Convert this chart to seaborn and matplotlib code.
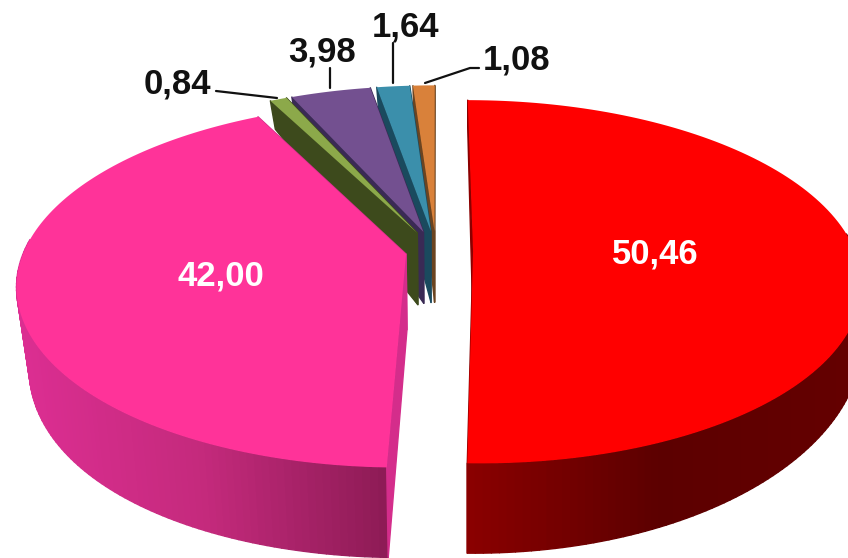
import numpy as np
import matplotlib
matplotlib.use("Agg")
import matplotlib.pyplot as plt
from matplotlib.collections import PolyCollection
from matplotlib.path import Path
from matplotlib.transforms import Affine2D, Transform
import seaborn as sns

values = [50.46, 42.00, 0.84, 3.98, 1.64, 1.08]
explode = [0.097, 0.08, 0.115, 0.115, 0.115, 0.115]
top_colors = ["#FF0000", "#FF3399", "#8CA94A", "#735090", "#3B8FAB", "#D9813A"]
wall_colors = [
    ["#8B0000", "#5C0000", "#640000"],
    ["#DC2E92", "#C42A7C", "#8D1B55"],
    ["#3D4A1C", "#3D4A1C"],
    ["#3A2A55", "#3A2A55"],
    ["#1A4A5E", "#1A4A5E"],
    ["#6B4420", "#6B4420"],
]
layer = [6, 5, 4, 3, 2, 1]
label_pos = [(655, 254), (221, 276), (177, 84), (322, 52), (405, 27), (517, 60)]
label_col = ["white", "white", "#111111", "#111111", "#111111", "#111111"]
leaders = {2: [(216, 91), (277, 98)], 3: [(330, 68), (330, 88)],
           4: [(393, 43), (393, 83)], 5: [(479, 68), (470, 68), (425, 83)]}

CX, CY, RX, RY, K = 436.0, 251.0, 382.0, 176.4, 0.168


def project(u, v, down=False):
    w = 1 + K * v
    x = CX + RX * u / w
    y = CY - RY * v / w
    if down:
        d = 75 - 31 * v - 16 * v * v
        d = d * (1 - 0.25 * np.clip(u, 0, None) ** 2)
        y = y + d
        x = x + 0.03 * np.clip(CX - x, 0, None)
    return x, y


class Persp(Transform):
    input_dims = output_dims = 2
    is_separable = False
    has_inverse = False

    def transform_non_affine(self, values):
        a = np.asarray(values, float)
        x, y = project(a[:, 0], a[:, 1])
        return np.column_stack([x, y])

    def transform_path_non_affine(self, path):
        # flatten the arcs first: Bezier control points do not survive a projective map
        scale = 2000.0
        poly = path.to_polygons(Affine2D().scale(scale), closed_only=True)[0] / scale
        return Path(self.transform_non_affine(poly), closed=True)


sns.set_theme(style="white")
plt.rcParams["font.family"] = ["Liberation Sans", "DejaVu Sans"]

fig = plt.figure(figsize=(8.48, 5.58), dpi=100, facecolor="white")
ax = fig.add_axes([0, 0, 1, 1])
wedges, _ = ax.pie(values, explode=explode, startangle=90, counterclock=False,
                   colors=top_colors, radius=1.0)
persp = Persp()

for i, wd in enumerate(wedges):
    wd.set_transform(persp + ax.transData)
    wd.set_zorder(layer[i] + 0.5)
    wd.set_edgecolor("none")
    cu, cv = wd.center
    t1, t2 = np.radians(wd.theta1), np.radians(wd.theta2)
    n = max(int(np.degrees(t2 - t1) / 1.0), 2)
    th = np.linspace(t1, t2, n + 1)
    u = cu + np.cos(th)
    v = cv + np.sin(th)
    xt, yt = project(u, v)
    xb, yb = project(u, v, down=True)
    front = [j for j in range(n) if np.sin(th[j]) < 0.1 and np.sin(th[j + 1]) < 0.1]
    polys = [np.array([[xt[j], yt[j]], [xt[j + 1], yt[j + 1]],
                       [xb[j + 1], yb[j + 1]], [xb[j], yb[j]]]) for j in front]
    pal = sns.blend_palette(wall_colors[i], n_colors=256)
    lo, hi = xt.min(), min(xt.max(), 848)
    cols = [pal[int(np.clip((0.5 * (xt[j] + xt[j + 1]) - lo) / max(hi - lo, 1), 0, 1) * 255)]
            for j in front]
    ax_, ay_ = project(np.array([cu]), np.array([cv]))
    bx_, by_ = project(np.array([cu]), np.array([cv]), down=True)
    for k in (0, n):
        face = np.array([[ax_[0], ay_[0]], [xt[k], yt[k]], [xb[k], yb[k]], [bx_[0], by_[0]]])
        polys.append(face)
        cols.append(pal[0] if i != 1 else pal[40])
    pc = PolyCollection(polys, facecolors=cols, edgecolors=cols, linewidths=1.0,
                        zorder=layer[i])
    ax.add_collection(pc)

ax.set_aspect("auto")
ax.set_xlim(0, 848)
ax.set_ylim(558, 0)
ax.axis("off")

for i, val in enumerate(values):
    ax.text(label_pos[i][0], label_pos[i][1], f"{val:.2f}".replace(".", ","),
            ha="center", va="center", fontsize=25, fontweight="bold",
            color=label_col[i], zorder=20)
for i, pts in leaders.items():
    ax.plot([p[0] for p in pts], [p[1] for p in pts], color="#111111", lw=1.6, zorder=19)

fig.savefig("out.png", dpi=100, facecolor="white")
